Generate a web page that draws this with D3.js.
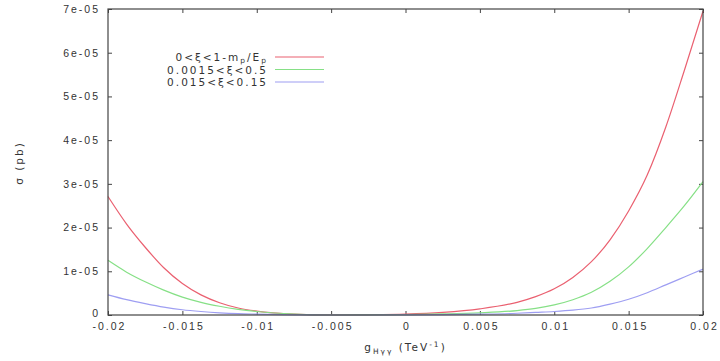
<!DOCTYPE html>
<html>
<head>
<meta charset="utf-8">
<script src="https://cdn.jsdelivr.net/npm/d3@7"></script>
<style>
  body { margin: 0; background: #fff; }
  svg { font-family: "DejaVu Sans", "Liberation Sans", sans-serif; }
  .tick-label { font-size: 10.5px; fill: #333; letter-spacing: 2px; }
</style>
</head>
<body>
<div id="chart"></div>
<script>
// coupling values g_Hγγ (TeV^-1)
const gValues = [-0.02, -0.01875, -0.0175, -0.01625, -0.015, -0.01375, -0.0125, -0.01125, -0.01,
  -0.0075, -0.005, -0.0025, 0, 0.0025, 0.005, 0.0075, 0.00875, 0.01, 0.01125, 0.0125, 0.01375,
  0.015, 0.01625, 0.0175, 0.01875, 0.02];

// cross sections, in units of 1e-05 pb
const sigmaFull = [2.71, 2.08, 1.55, 1.08, 0.72, 0.46, 0.28, 0.16, 0.09,
  0.02, 0.0, 0.005, 0.02, 0.06, 0.14, 0.29, 0.42, 0.6, 0.86, 1.22, 1.72,
  2.38, 3.2, 4.3, 5.6, 6.95];
const sigmaMid = [1.25, 0.98, 0.76, 0.57, 0.41, 0.29, 0.2, 0.13, 0.08,
  0.02, 0.0, 0.004, 0.01, 0.025, 0.05, 0.1, 0.15, 0.23, 0.35, 0.52, 0.77,
  1.1, 1.52, 2.0, 2.5, 3.05];
const sigmaNarrow = [0.46, 0.35, 0.26, 0.18, 0.12, 0.08, 0.05, 0.03, 0.02,
  0.005, 0.0, 0.0, 0.003, 0.008, 0.02, 0.04, 0.06, 0.08, 0.11, 0.16, 0.25,
  0.36, 0.51, 0.69, 0.87, 1.05];

const seriesColors = ["#ea6070", "#86e086", "#9e9ef2"];

const xTicks = [-0.02, -0.015, -0.01, -0.005, 0, 0.005, 0.01, 0.015, 0.02];
const yTicks = [0, 1, 2, 3, 4, 5, 6, 7];

const W = 720, H = 361;
const margin = {top: 9, right: 17, bottom: 46, left: 108};
const w = W - margin.left - margin.right;
const h = H - margin.top - margin.bottom;

const svg = d3.select("#chart").append("svg")
  .attr("width", W).attr("height", H);
const g = svg.append("g").attr("transform", `translate(${margin.left},${margin.top})`);

const x = d3.scaleLinear().domain([-0.02, 0.02]).range([0, w]);
const y = d3.scaleLinear().domain([0, 7]).range([h, 0]);

const tickLen = 4;
const axisColor = "#444";

// bottom / top ticks (mirrored inward)
g.append("g").attr("transform", `translate(0,${h})`)
  .call(d3.axisBottom(x).tickValues(xTicks).tickSize(-tickLen).tickPadding(8).tickFormat(d => String(d)))
  .call(a => a.select(".domain").remove())
  .call(a => a.selectAll("line").attr("stroke", axisColor))
  .call(a => a.selectAll("text").attr("class", "tick-label").attr("dx", 1));
g.append("g")
  .call(d3.axisTop(x).tickValues(xTicks).tickSize(-tickLen).tickFormat(""))
  .call(a => a.select(".domain").remove())
  .call(a => a.selectAll("line").attr("stroke", axisColor));

// left / right ticks
g.append("g")
  .call(d3.axisLeft(y).tickValues(yTicks).tickSize(-tickLen).tickPadding(8)
    .tickFormat(d => d === 0 ? "0" : `${d}e-05`))
  .call(a => a.select(".domain").remove())
  .call(a => a.selectAll("line").attr("stroke", axisColor))
  .call(a => a.selectAll("text").attr("class", "tick-label"))
  .call(a => a.selectAll(".tick text").filter(d => d === 0).attr("dy", "0.1em"));
g.append("g").attr("transform", `translate(${w},0)`)
  .call(d3.axisRight(y).tickValues(yTicks).tickSize(-tickLen).tickFormat(""))
  .call(a => a.select(".domain").remove())
  .call(a => a.selectAll("line").attr("stroke", axisColor));

// curves
const line = d3.line()
  .x(d => x(d[0]))
  .y(d => y(d[1]))
  .curve(d3.curveMonotoneX);

const allSeries = [sigmaFull, sigmaMid, sigmaNarrow];
g.append("g")
  .selectAll("path")
  .data(allSeries)
  .enter().append("path")
  .attr("d", s => line(gValues.map((gv, i) => [gv, s[i]])))
  .attr("fill", "none")
  .attr("stroke", (s, i) => seriesColors[i])
  .attr("stroke-width", 1.2);

// frame
g.append("rect")
  .attr("width", w).attr("height", h)
  .attr("fill", "none")
  .attr("stroke", axisColor)
  .attr("stroke-width", 1.2);

// legend
const legend = g.append("g");
const legendRows = [
  [["0<ξ<1-m", null], ["p", "sub"], ["/E", null], ["p", "sub"]],
  [["0.0015<ξ<0.5", null]],
  [["0.015<ξ<0.15", null]]
];
legendRows.forEach((row, i) => {
  const yy = 48 + i * 12.5;
  const t = legend.append("text")
    .attr("x", 160).attr("y", yy + 4)
    .attr("text-anchor", "end")
    .attr("class", "tick-label");
  row.forEach(([txt, kind], j) => {
    const ts = t.append("tspan").text(txt);
    if (kind === "sub") ts.attr("font-size", "7.5px").attr("dy", 2);
    else if (j > 0) ts.attr("dy", -2);
  });
  legend.append("line")
    .attr("x1", 167).attr("x2", 216)
    .attr("y1", yy).attr("y2", yy)
    .attr("stroke", seriesColors[i])
    .attr("stroke-width", 1.2);
});

// axis labels
const xl = svg.append("text")
  .attr("x", margin.left + x(0)).attr("y", 351)
  .attr("text-anchor", "middle")
  .attr("class", "tick-label");
xl.append("tspan").text("g");
xl.append("tspan").text("Hγγ").attr("font-size", "7.5px").attr("dy", 3);
xl.append("tspan").text(" (TeV").attr("dy", -3);
xl.append("tspan").text("-1").attr("font-size", "7.5px").attr("dy", -4);
xl.append("tspan").text(")").attr("dy", 4);

svg.append("text")
  .attr("transform", "translate(23,163) rotate(-90)")
  .attr("text-anchor", "middle")
  .attr("class", "tick-label")
  .text("σ (pb)");
</script>
</body>
</html>
